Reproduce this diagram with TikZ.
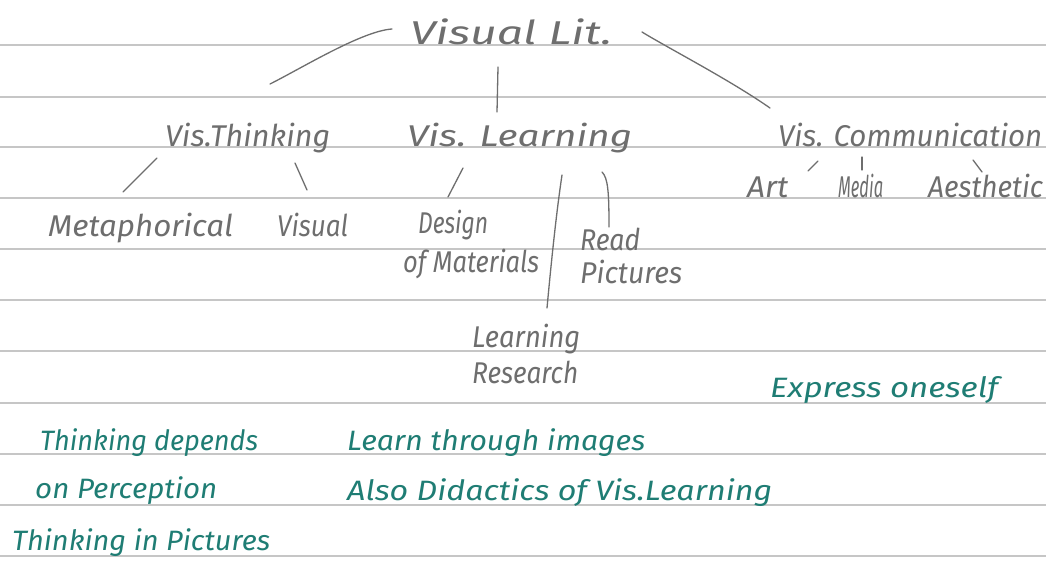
\documentclass[tikz,border=0pt]{standalone}
\usepackage{fontspec}
\usepackage{graphicx}
\newfontfamily\handfam{Fira Sans}
\newcommand{\hand}{\handfam\itshape}
\definecolor{pencil}{HTML}{6E6E6E}
\definecolor{ink}{HTML}{1F7D74}
\definecolor{rulecol}{HTML}{C6C6C6}
\newcommand{\hw}[2]{\resizebox{#1pt}{\height}{#2}}
\begin{document}
\begin{tikzpicture}[x=1pt,y=-1pt,
  ruled/.style={draw=rulecol, line width=1.5pt},
  pentext/.style={anchor=base west, inner sep=0pt, text=pencil, font=\hand\fontsize{30}{30}\selectfont},
  toptext/.style={pentext, font=\hand\fontsize{33}{33}\selectfont},
  inktext/.style={anchor=base west, inner sep=0pt, text=ink, font=\hand\fontsize{28}{28}\selectfont},
  link/.style={draw=pencil, line width=1.3pt, line cap=round}]
\useasboundingbox (0,0) rectangle (1046,584);
\fill[white] (0,0) rectangle (1046,584);
% ruled paper
\foreach \yy in {45,97,147,198,249,300,351,403,454,505,556}
  \draw[ruled] (0,\yy) -- (1046,\yy);

% pencil texts
\node[toptext] (lit) at (410,44) {\hw{202}{Visual Lit.}};
\node[pentext] (vt) at (165,146) {\hw{165}{Vis.Thinking}};
\node[pentext] (vl) at (407,146) {\hw{225}{Vis. Learning}};
\node[pentext] (vc) at (778,146) {\hw{264}{Vis. Communication}};
\node[pentext] (art) at (747,197) {\hw{41}{Art}};
\node[pentext] (media) at (838,197) {\hw{45}{Media}};
\node[pentext] (aes) at (928,197) {\hw{115}{Aesthetic}};
\node[pentext] (meta) at (48,236) {\hw{185}{Metaphorical}};
\node[pentext] (visual) at (277,236) {\hw{71}{Visual}};
\node[pentext] (design) at (418,233) {\hw{70}{Design}};
\node[pentext] (materials) at (403,272) {\hw{136}{of Materials}};
\node[pentext] (read) at (580,250) {\hw{60}{Read}};
\node[pentext] (pictures) at (580,283) {\hw{102}{Pictures}};
\node[pentext] (learning) at (472,347) {\hw{108}{Learning}};
\node[pentext] (research) at (472,383) {\hw{106}{Research}};

% ink texts
\node[inktext] (express) at (770,397) {\hw{228}{Express oneself}};
\node[inktext] (depends) at (40,450) {\hw{218}{Thinking depends}};
\node[inktext] (perception) at (35,498) {\hw{182}{on Perception}};
\node[inktext] (inpictures) at (12,550) {\hw{258}{Thinking in Pictures}};
\node[inktext] (images) at (347,450) {\hw{298}{Learn through images}};
\node[inktext] (didactics) at (347,500) {\hw{425}{Also Didactics of Vis.Learning}};

% connector end points
\coordinate (a1) at (392,29);  \coordinate (a2) at (270,84);
\coordinate (b1) at (498,67);  \coordinate (b2) at (497,112);
\coordinate (c1) at (642,32);  \coordinate (c2) at (770,108);
\coordinate (d1) at (157,158); \coordinate (d2) at (123,192);
\coordinate (e1) at (295,163); \coordinate (e2) at (307,190);
\coordinate (f1) at (463,168); \coordinate (f2) at (448,197);
\coordinate (g1) at (562,175); \coordinate (g2) at (547,308);
\coordinate (h1) at (602,172); \coordinate (h2) at (609,227);
\coordinate (i1) at (818,161); \coordinate (i2) at (808,171);
\coordinate (j1) at (862,157); \coordinate (j2) at (862,170);
\coordinate (k1) at (973,160); \coordinate (k2) at (982,172);

% connectors
\draw[link] (a1) .. controls (362,31) and (302,68) .. (a2);
\draw[link] (b1) -- (b2);
\draw[link] (c1) .. controls (668,48) and (730,80) .. (c2);
\draw[link] (d1) -- (d2);
\draw[link] (e1) -- (e2);
\draw[link] (f1) -- (f2);
\draw[link] (g1) .. controls (556,215) and (551,265) .. (g2);
\draw[link] (h1) .. controls (608,178) and (609,192) .. (h2);
\draw[link] (i1) -- (i2);
\draw[link] (j1) -- (j2);
\draw[link] (k1) -- (k2);
\end{tikzpicture}
\end{document}
